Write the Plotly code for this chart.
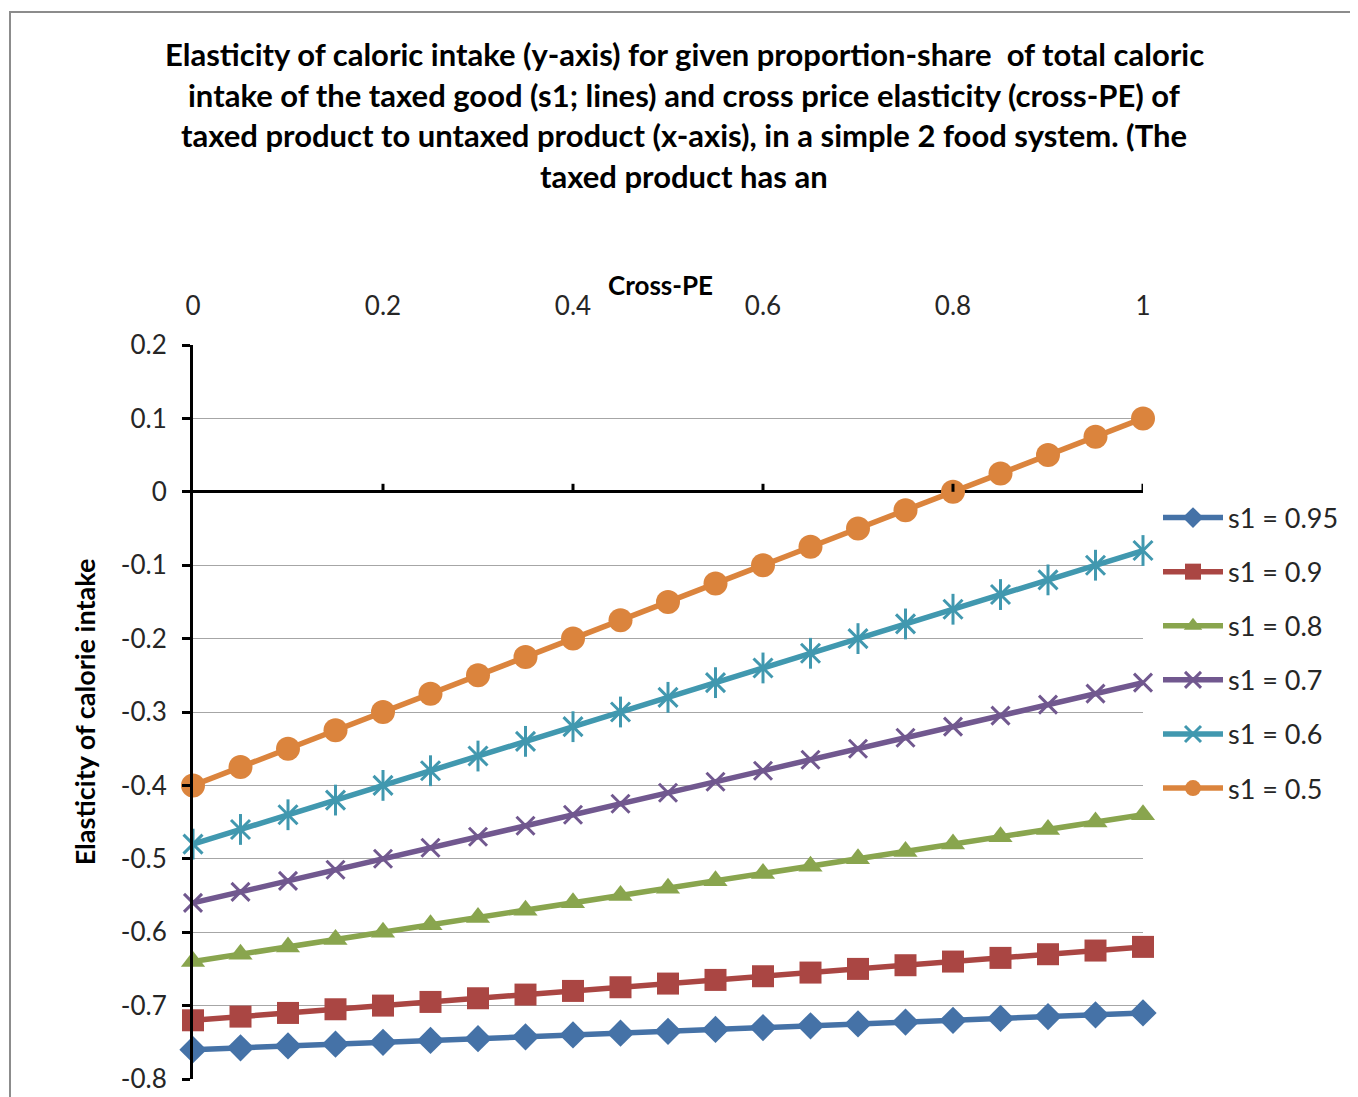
import plotly.graph_objects as go

# ---- data ----
cross_pe = [0.0, 0.05, 0.1, 0.15, 0.2, 0.25, 0.3, 0.35, 0.4, 0.45, 0.5,
            0.55, 0.6, 0.65, 0.7, 0.75, 0.8, 0.85, 0.9, 0.95, 1.0]

s1_095 = [-0.76, -0.7575, -0.755, -0.7525, -0.75, -0.7475, -0.745, -0.7425, -0.74, -0.7375, -0.735,
          -0.7325, -0.73, -0.7275, -0.725, -0.7225, -0.72, -0.7175, -0.715, -0.7125, -0.71]
s1_090 = [-0.72, -0.715, -0.71, -0.705, -0.70, -0.695, -0.69, -0.685, -0.68, -0.675, -0.67,
          -0.665, -0.66, -0.655, -0.65, -0.645, -0.64, -0.635, -0.63, -0.625, -0.62]
s1_080 = [-0.64, -0.63, -0.62, -0.61, -0.60, -0.59, -0.58, -0.57, -0.56, -0.55, -0.54,
          -0.53, -0.52, -0.51, -0.50, -0.49, -0.48, -0.47, -0.46, -0.45, -0.44]
s1_070 = [-0.56, -0.545, -0.53, -0.515, -0.50, -0.485, -0.47, -0.455, -0.44, -0.425, -0.41,
          -0.395, -0.38, -0.365, -0.35, -0.335, -0.32, -0.305, -0.29, -0.275, -0.26]
s1_060 = [-0.48, -0.46, -0.44, -0.42, -0.40, -0.38, -0.36, -0.34, -0.32, -0.30, -0.28,
          -0.26, -0.24, -0.22, -0.20, -0.18, -0.16, -0.14, -0.12, -0.10, -0.08]
s1_050 = [-0.40, -0.375, -0.35, -0.325, -0.30, -0.275, -0.25, -0.225, -0.20, -0.175, -0.15,
          -0.125, -0.10, -0.075, -0.05, -0.025, 0.0, 0.025, 0.05, 0.075, 0.10]

series_names = ["s1 = 0.95", "s1 = 0.9", "s1 = 0.8", "s1 = 0.7", "s1 = 0.6", "s1 = 0.5"]
series_values = [s1_095, s1_090, s1_080, s1_070, s1_060, s1_050]

x_tick_vals = [0, 0.2, 0.4, 0.6, 0.8, 1]
x_tick_text = ["0", "0.2", "0.4", "0.6", "0.8", "1"]
y_tick_vals = [-0.8, -0.7, -0.6, -0.5, -0.4, -0.3, -0.2, -0.1, 0, 0.1, 0.2]
y_tick_text = ["-0.8", "-0.7", "-0.6", "-0.5", "-0.4", "-0.3", "-0.2", "-0.1", "0", "0.1", "0.2"]

title_lines = [
    "Elasticity of caloric intake (y-axis) for given proportion-share  of total caloric",
    "intake of the taxed good (s1; lines) and cross price elasticity (cross-PE) of",
    "taxed product to untaxed product (x-axis), in a simple 2 food system. (The",
    "taxed product has an",
]

# ---- styles ----
colors = ["#4572A7", "#AA4643", "#89A54E", "#71588F", "#4198AF", "#DB843D"]
symbols = ["diamond", "square", "triangle-up", "x-thin-open", "x-thin-open", "circle"]
sizes = [21, 22, 21, 18, 19, 24]
FONT = "Lato, Open Sans, sans-serif"
TXT = "#262626"

# page -> paper helpers (plot area on the page: x 193..1143, y 345..1079)
def px(xp):
    return (xp - 193) / 950.0

def py(yp):
    return (1079 - yp) / 734.0

fig = go.Figure()
for i, (name, vals) in enumerate(zip(series_names, series_values)):
    open_sym = symbols[i].endswith("open")
    fig.add_trace(go.Scatter(
        x=cross_pe, y=vals, name=name, mode="lines+markers",
        line=dict(color=colors[i], width=5.5),
        marker=dict(symbol=symbols[i], size=sizes[i], color=colors[i],
                    line=dict(color=colors[i], width=3 if open_sym else 0)),
        cliponaxis=False, legendgroup=name,
    ))
    if name == "s1 = 0.6":
        # vertical stroke completing the Excel-style asterisk marker
        fig.add_trace(go.Scatter(
            x=cross_pe, y=vals, name=name, mode="markers", showlegend=False,
            marker=dict(symbol="line-ns-open", size=22, color=colors[i],
                        line=dict(color=colors[i], width=3)),
            cliponaxis=False, legendgroup=name, hoverinfo="skip",
        ))

# outer chart border
fig.add_shape(type="rect", xref="paper", yref="paper",
              x0=px(10), x1=px(1420), y0=py(1160), y1=py(12),
              line=dict(color="#8C8C8C", width=2), fillcolor="rgba(0,0,0,0)", layer="below")

# upward tick marks on the horizontal axis line at y = 0
for tv in x_tick_vals[1:]:
    fig.add_shape(type="line", xref="x", yref="y", x0=tv, x1=tv,
                  ysizemode="pixel", yanchor=0, y0=0, y1=8,
                  line=dict(color="black", width=3), layer="above")

# title lines
for k, line in enumerate(title_lines):
    fig.add_annotation(text="<b>%s</b>" % line, xref="paper", yref="paper",
                       x=px(684), y=py(54 + 40.7 * k),
                       xanchor="center", yanchor="middle", showarrow=False,
                       font=dict(family=FONT, size=31, color="#000000"))

# x-axis title at top
fig.add_annotation(text="<b>Cross-PE</b>", xref="paper", yref="paper",
                   x=px(660), y=py(285),
                   xanchor="center", yanchor="middle", showarrow=False,
                   font=dict(family=FONT, size=26, color="#000000"))

fig.update_layout(
    width=1358, height=1097,
    margin=dict(l=185, r=223, t=337, b=26),
    paper_bgcolor="white", plot_bgcolor="white",
    font=dict(family=FONT, color=TXT),
    showlegend=True,
    legend=dict(x=px(1158), y=py(653), xanchor="left", yanchor="middle",
                font=dict(family=FONT, size=27, color=TXT),
                itemwidth=60, tracegroupgap=16, traceorder="grouped",
                bgcolor="rgba(0,0,0,0)"),
    xaxis=dict(range=[0, 1], side="top", tickmode="array", tickvals=x_tick_vals,
               ticktext=x_tick_text, showgrid=False, zeroline=False, showline=False,
               ticks="", ticklabelstandoff=24,
               tickfont=dict(family=FONT, size=26, color=TXT)),
    yaxis=dict(range=[-0.8, 0.2], tickmode="array", tickvals=y_tick_vals,
               ticktext=y_tick_text, showgrid=True, gridcolor="#A6A6A6", gridwidth=1,
               zeroline=True, zerolinecolor="black", zerolinewidth=3,
               showline=True, linecolor="black", linewidth=3,
               ticks="outside", ticklen=8, tickwidth=3, tickcolor="black",
               ticklabelstandoff=10,
               tickfont=dict(family=FONT, size=26, color=TXT),
               title=dict(text="<b>Elasticity of calorie intake</b>", standoff=18,
                          font=dict(family=FONT, size=27, color="#000000"))),
)

fig.write_html("out.html")
